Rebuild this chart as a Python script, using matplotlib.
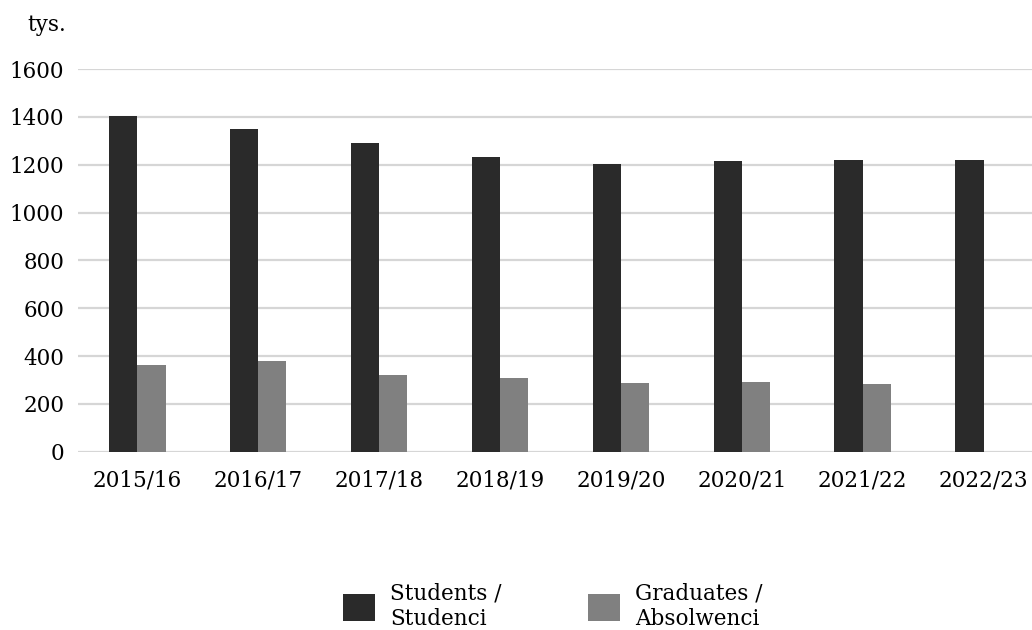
import matplotlib
matplotlib.use("Agg")
import matplotlib.pyplot as plt
import numpy as np

years = ["2015/16", "2016/17", "2017/18", "2018/19", "2019/20", "2020/21", "2021/22", "2022/23"]
students = [1405, 1348, 1292, 1230, 1204, 1215, 1218, 1221]
graduates = [362, 380, 322, 308, 287, 292, 284, np.nan]
yticks = [0, 200, 400, 600, 800, 1000, 1200, 1400, 1600]

plt.rcParams['font.family'] = ['DejaVu Serif']

fig = plt.figure(figsize=(10.32, 6.3), dpi=100)
ax = fig.add_axes([78/1032, 178.3/630, 1 - 78/1032, (561 - 178.3)/630])

x = np.arange(len(years))
w = 0.234
ax.bar(x - w/2, students, width=w, color='#2a2a2a', label='Students /\nStudenci', zorder=3)
ax.bar(x + w/2, graduates, width=w, color='#808080', label='Graduates /\nAbsolwenci', zorder=3)

ax.set_xlim(-0.49, 7.40)
ax.set_ylim(0, 1600)
ax.set_yticks(yticks)
ax.set_xticks(x)
ax.set_xticklabels(years)
ax.tick_params(axis='both', length=0, labelsize=15.5, colors='black')
ax.tick_params(axis='y', pad=10)
ax.tick_params(axis='x', pad=13)
ax.yaxis.grid(True, color='#d6d6d6', linewidth=1.6, zorder=0)
ax.set_axisbelow(True)
for s in ax.spines.values():
    s.set_visible(False)

fig.text(47/1032, 1 - 25/630, 'tys.', fontsize=15.5, ha='center', va='center')

fig.legend(loc='center', bbox_to_anchor=(553/1032, 1 - 606/630), ncol=2, frameon=False,
           fontsize=15.5, handlelength=1.5, handleheight=1.6, handletextpad=0.7,
           columnspacing=4.0, labelspacing=0.3)

fig.savefig('out.png', dpi=100)
